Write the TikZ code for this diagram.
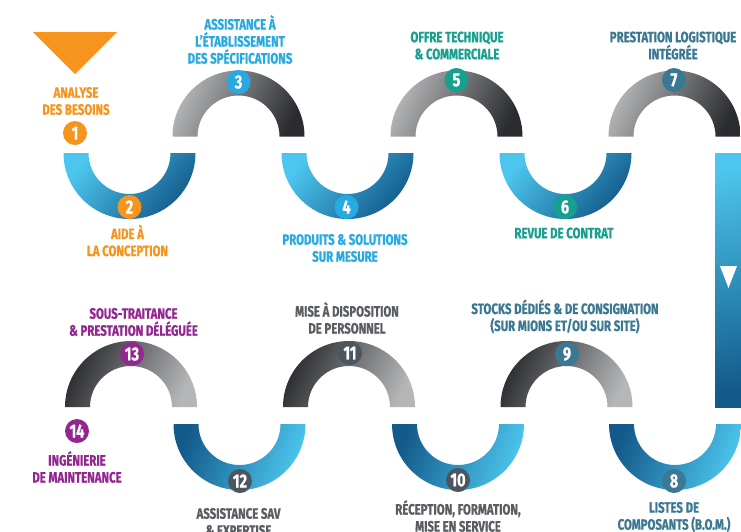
\documentclass[tikz,border=0pt]{standalone}
\usepackage{fontspec}
\newfontfamily\din[FakeStretch=0.76,FakeBold=0.8]{Fira Sans}
\definecolor{cOrange}{HTML}{F7941D}
\definecolor{cBlue}{HTML}{27AAE1}
\definecolor{cTeal}{HTML}{17A08E}
\definecolor{cSteel}{HTML}{3B7894}
\definecolor{cSlate}{HTML}{4B5660}
\definecolor{cSlateT}{HTML}{5A5D61}
\definecolor{cPurple}{HTML}{92278F}
\definecolor{gLight}{HTML}{B4B6B8}
\definecolor{gDark}{HTML}{2A2C2F}
\definecolor{bLight}{HTML}{4CC6EE}
\definecolor{bDark}{HTML}{135A8A}
\newcommand\myarcup[3]{\shade[#3] (#1-66,#2) arc[start angle=180,end angle=0,radius=66pt] -- (#1+41,#2) arc[start angle=0,end angle=180,radius=41pt] -- cycle;}
\newcommand\myarcdown[3]{\shade[#3] (#1-66,#2) arc[start angle=180,end angle=360,radius=66pt] -- (#1+41,#2) arc[start angle=360,end angle=180,radius=41pt] -- cycle;}
\begin{document}
\begin{tikzpicture}[x=1pt,y=-1pt,
  grayTop/.style={top color=gLight,bottom color=gDark,shading angle=65},
  grayBot/.style={top color=gDark,bottom color=gLight,shading angle=65},
  blueTop/.style={top color=bLight,bottom color=bDark,shading angle=50},
  blueBot/.style={top color=bDark,bottom color=bLight,shading angle=70},
  numc/.style={circle,minimum size=24pt,inner sep=0pt,text=white,font=\din\bfseries\fontsize{19}{19}\selectfont},
  lab/.style={align=center,inner sep=0pt,font=\din\bfseries\fontsize{15}{17}\selectfont}]
\useasboundingbox (0,0) rectangle (741,531);
\fill[white] (0,0) rectangle (741,531);
% top row
\myarcdown{129.5}{153}{blueTop}
\myarcup{238.5}{136.5}{grayTop}
\myarcdown{347.5}{153}{blueTop}
\myarcup{456.5}{136.5}{grayTop}
\myarcdown{565.5}{153}{blueTop}
\myarcup{674.5}{136.5}{grayTop}
% vertical bar
\shade[top color=bLight,bottom color=bDark,shading angle=10] (715,153) rectangle (741,407);
\fill[white] (720,266) -- (737,266) -- (728.5,288) -- cycle;
% bottom row
\myarcup{131}{407}{grayBot}
\myarcdown{239.5}{424}{blueBot}
\myarcup{349}{407}{grayBot}
\myarcdown{458}{424}{blueBot}
\myarcup{566.5}{407}{grayBot}
\myarcdown{675}{424}{blueBot}
% start triangle
\fill[cOrange] (33,32) -- (117,32) -- (75,74) -- cycle;
% numbers
\node[numc,fill=cOrange] (n1) at (75,133) {1};
\node[numc,fill=cOrange] (n2) at (129.5,207) {2};
\node[numc,fill=cBlue] (n3) at (238.5,82) {3};
\node[numc,fill=cBlue] (n4) at (346.5,207) {4};
\node[numc,fill=cTeal] (n5) at (456.5,80) {5};
\node[numc,fill=cTeal] (n6) at (565,207) {6};
\node[numc,fill=cSteel] (n7) at (674,80) {7};
\node[numc,fill=cSteel] (n8) at (674,481) {8};
\node[numc,fill=cSteel] (n9) at (567,354) {9};
\node[numc,fill=cSlate] (n10) at (458,480) {10};
\node[numc,fill=cSlate] (n11) at (350,353) {11};
\node[numc,fill=cSlate] (n12) at (240,481) {12};
\node[numc,fill=cPurple] (n13) at (132,354) {13};
\node[numc,fill=cPurple] (n14) at (77,431) {14};
% labels
\node[lab,text=cOrange] (t1) at (76,101) {ANALYSE\\DES BESOINS};
\node[lab,text=cOrange] (t2) at (127.5,240.5) {AIDE À\\LA CONCEPTION};
\node[lab,text=cBlue] (t3) at (240,39.5) {ASSISTANCE À\\L’ÉTABLISSEMENT\\DES SPÉCIFICATIONS};
\node[lab,text=cBlue] (t4) at (345,248) {PRODUITS \& SOLUTIONS\\SUR MESURE};
\node[lab,text=cTeal] (t5) at (457,45.5) {OFFRE TECHNIQUE\\\& COMMERCIALE};
\node[lab,text=cTeal] (t6) at (564,233) {REVUE DE CONTRAT};
\node[lab,text=cSteel] (t7) at (673,45.5) {PRESTATION LOGISTIQUE\\INTÉGRÉE};
\node[lab,text=cSteel] (t8) at (674,517) {LISTES DE\\COMPOSANTS (B.O.M.)};
\node[lab,text=cSteel] (t9) at (565,316.5) {STOCKS DÉDIÉS \& DE CONSIGNATION\\(SUR MIONS ET/OU SUR SITE)};
\node[lab,text=cSlateT] (t10) at (458,516) {RÉCEPTION, FORMATION,\\MISE EN SERVICE};
\node[lab,text=cSlateT] (t11) at (347,318) {MISE À DISPOSITION\\DE PERSONNEL};
\node[lab,text=cSlateT] (t12) at (238.5,522) {ASSISTANCE SAV\\\& EXPERTISE};
\node[lab,text=cPurple] (t13) at (133.5,322) {SOUS-TRAITANCE\\\& PRESTATION DÉLÉGUÉE};
\node[lab,text=cPurple] (t14) at (77,467) {INGÉNIERIE\\DE MAINTENANCE};
\end{tikzpicture}
\end{document}
